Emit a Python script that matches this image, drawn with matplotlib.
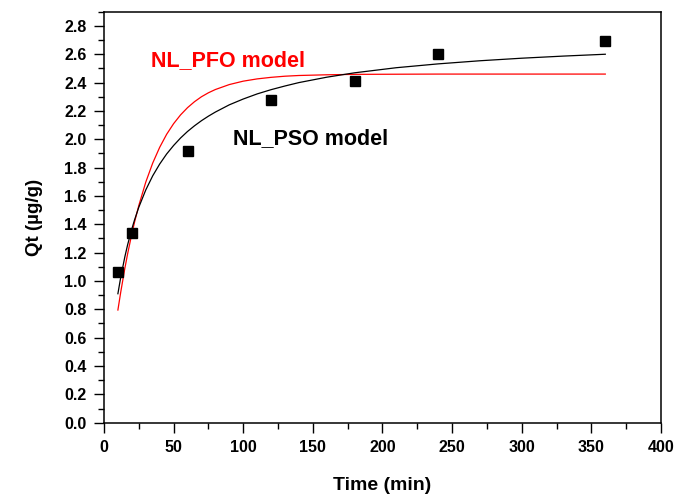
import numpy as np
import matplotlib
matplotlib.use("Agg")
import matplotlib.pyplot as plt
from matplotlib.ticker import MultipleLocator

plt.rcParams['font.family'] = ['Liberation Sans', 'DejaVu Sans']
plt.rcParams['font.weight'] = 'bold'

# measured uptake
time_exp = [10, 20, 60, 120, 180, 240, 360]
qt_exp = [1.06, 1.34, 1.92, 2.28, 2.41, 2.60, 2.69]

# fitted model curves (min, ug/g)
time_fit = [10, 12, 15, 17, 20, 22, 25, 30, 35, 40, 45, 50, 55, 60, 65,
            70, 75, 80, 90, 100, 110, 120, 130, 140, 160, 180, 210, 240,
            270, 300, 330, 360]
qt_pso = [0.910, 1.024, 1.171, 1.256, 1.367, 1.432, 1.520, 1.642, 1.742,
          1.825, 1.896, 1.956, 2.009, 2.055, 2.095, 2.131, 2.163, 2.192,
          2.243, 2.284, 2.320, 2.350, 2.376, 2.400, 2.438, 2.469, 2.505,
          2.532, 2.554, 2.572, 2.587, 2.600]
qt_pfo = [0.795, 0.919, 1.090, 1.192, 1.333, 1.417, 1.532, 1.697, 1.832,
          1.943, 2.035, 2.110, 2.172, 2.223, 2.265, 2.300, 2.328, 2.351,
          2.386, 2.410, 2.426, 2.437, 2.445, 2.450, 2.455, 2.458, 2.459,
          2.460, 2.460, 2.460, 2.460, 2.460]

fig = plt.figure(figsize=(6.76, 5.01), dpi=100)
ax = fig.add_axes([0.1538, 0.1563, 0.824, 0.8203])

ax.plot(time_fit, qt_pfo, color='red', lw=0.9)
ax.plot(time_fit, qt_pso, color='black', lw=0.9)
ax.plot(time_exp, qt_exp, 's', color='black', ms=6.7, mec='black')

ax.text(33.7, 2.52, 'NL_PFO model', color='red', fontsize=15.5,
        fontweight='bold', ha='left', va='baseline')
ax.text(92.4, 1.963, 'NL_PSO model', color='black', fontsize=15.5,
        fontweight='bold', ha='left', va='baseline')

ax.set_xlim(0, 400)
ax.set_ylim(0, 2.9)
ax.xaxis.set_major_locator(MultipleLocator(50))
ax.xaxis.set_minor_locator(MultipleLocator(25))
ax.yaxis.set_major_locator(MultipleLocator(0.2))
ax.yaxis.set_minor_locator(MultipleLocator(0.1))
ax.yaxis.set_major_formatter(plt.FormatStrFormatter('%.1f'))

ax.tick_params(which='major', direction='out', length=7.5, width=1,
               labelsize=11.5, pad=5)
ax.tick_params(which='minor', direction='out', length=4, width=1)
for sp in ax.spines.values():
    sp.set_linewidth(1.1)

ax.set_xlabel('Time (min)', fontsize=14, fontweight='bold', labelpad=16)
ax.set_ylabel('Qt (\u00b5g/g)', fontsize=13.5, fontweight='bold', labelpad=15)

fig.savefig('out.png', dpi=100)
